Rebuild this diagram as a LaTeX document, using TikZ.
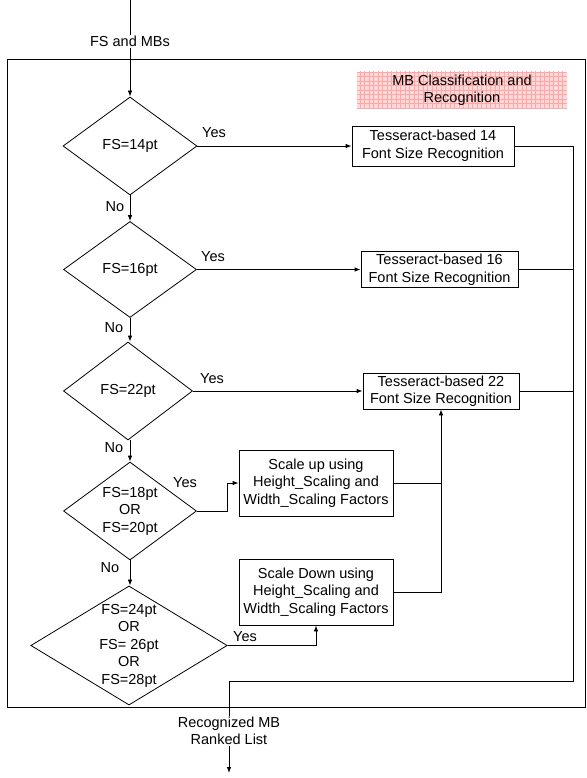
\documentclass[tikz,border=0pt]{standalone}
\usepackage{fontspec}
\setmainfont{Liberation Sans}
\usetikzlibrary{shapes.geometric,arrows.meta}
\begin{document}
\begin{tikzpicture}[x=1pt, y=-1pt, >={Latex[length=6pt,width=4.5pt]}, line width=0.8pt,
  every node/.style={font=\fontsize{14.5}{17.5}\selectfont},
  test/.style={draw, diamond, inner sep=0pt, align=center},
  task/.style={draw, rectangle, inner sep=0pt, align=center},
  lbl/.style={inner sep=1pt}]
\useasboundingbox (0,0) rectangle (586,778);
\draw (7,59) rectangle (585,707);
% title box
\fill[red!15] (357,72) rectangle (567,109);
\begin{scope}
\clip (357,72) rectangle (567,109);
\draw[red!35, line width=0.3pt, step=4.5pt] (350,60) grid (580,120);
\end{scope}
\node[align=center] (title) at (462,90.5) {MB Classification and\\Recognition};
% decisions
\node[test, minimum width=134pt, minimum height=98pt, shape aspect=1.37] (d1) at (130,146) {FS=14pt};
\node[test, minimum width=133pt, minimum height=96pt, shape aspect=1.38] (d2) at (130,269.5) {FS=16pt};
\node[test, minimum width=129pt, minimum height=98pt, shape aspect=1.32] (d3) at (128,391) {FS=22pt};
\node[test, minimum width=133pt, minimum height=98pt, shape aspect=1.36] (d4) at (130,511) {FS=18pt\\OR\\FS=20pt};
\node[test, minimum width=196pt, minimum height=119pt, shape aspect=1.65] (d5) at (129,645.5) {FS=24pt\\OR\\FS= 26pt\\OR\\FS=28pt};
% recognizers
\node[task, minimum width=162pt, minimum height=40pt] (b1) at (433,146) {Tesseract-based 14\\Font Size Recognition};
\node[task, minimum width=157pt, minimum height=36pt] (b2) at (439.5,269.5) {Tesseract-based 16\\Font Size Recognition};
\node[task, minimum width=156pt, minimum height=36pt] (b3) at (441,391) {Tesseract-based 22\\Font Size Recognition};
\node[task, minimum width=154pt, minimum height=66pt] (b4) at (316,483) {Scale up using\\Height\_Scaling and\\Width\_Scaling Factors};
\node[task, minimum width=154pt, minimum height=66pt] (b5) at (316,592) {Scale Down using\\Height\_Scaling and\\Width\_Scaling Factors};
% in and out
\coordinate (in) at (130,0);
\coordinate (rr) at (573,681);
\coordinate (rl) at (229,681);
\coordinate (out) at (229,773);
\draw[->] (in) -- node[pos=0.43, fill=white, lbl] (fsin) {FS and MBs} (d1.north);
\draw[->] (d1.south) -- (d2.north);
\draw[->] (d2.south) -- (d3.north -| d2.south);
\draw[->] (d3.south -| d2.south) -- (d4.north);
\draw[->] (d4.south) -- (d5.north -| d4.south);
\draw[->] (d1.east) -- (b1.west);
\draw[->] (d2.east) -- (b2.west);
\draw[->] (d3.east) -- (b3.west);
\draw[->] (d4.east) -- ++(30,0) |- (b4.west);
\draw[->] (d5.east) -| (b5.south);
\draw[->] (b5.east) -| (b3.south);
\draw (b4.east) -- (b4.east -| b3.south);
\draw[->] (b1.east) -| (rr) -- (rl) -- node[pos=0.54, fill=white, align=center, lbl] (res) {Recognized MB\\Ranked List} (out);
\draw (b2.east) -- (b2.east -| rr);
\draw (b3.east) -- (b3.east -| rr);
% branch labels
\node[lbl] (y1) at (214,133) {Yes};
\node[lbl] (y2) at (213,257) {Yes};
\node[lbl] (y3) at (212,379) {Yes};
\node[lbl] (y4) at (185,483) {Yes};
\node[lbl] (y5) at (245,637) {Yes};
\node[lbl] (n1) at (115,207) {No};
\node[lbl] (n2) at (114,328) {No};
\node[lbl] (n3) at (114,448) {No};
\node[lbl] (n4) at (110,568) {No};
\end{tikzpicture}
\end{document}
